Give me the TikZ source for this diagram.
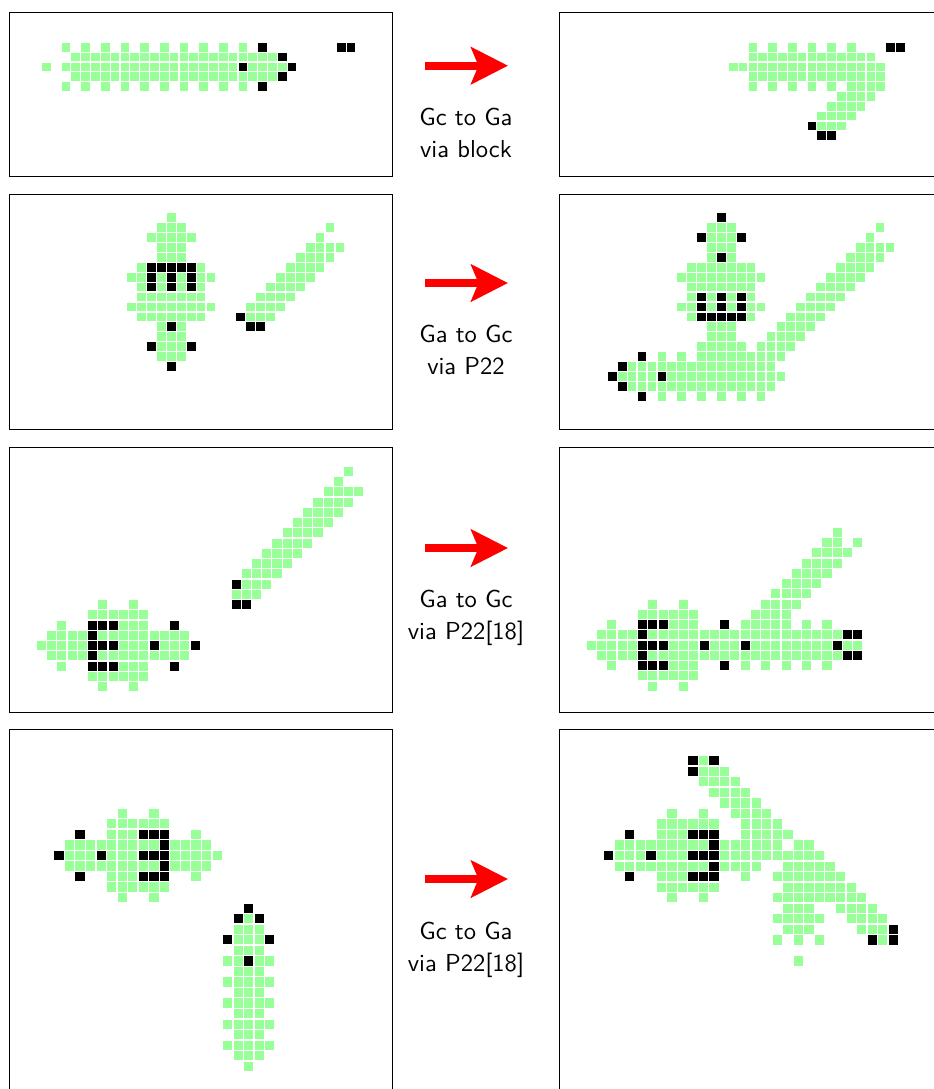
\documentclass[tikz,border=0pt]{standalone}
\usepackage{xcolor}
\usetikzlibrary{arrows.meta}
\definecolor{livegreen}{rgb}{0.6,1,0.6}
\tikzset{
  panel/.style={draw=black,line width=0.4pt},
  moveto/.style={red,line width=3.3pt,-{Stealth[length=15pt,width=15pt,inset=3pt]}},
  vialabel/.style={font=\sffamily,align=center,text=black,inner sep=0pt}
}
\newcommand{\cells}[2]{%
  \foreach \rw/\cs in {#2} \foreach \cx in \cs
    \fill[#1] (\cx-.44,\rw-.44) rectangle ++(.88,.88);}

\begin{document}
\begin{tikzpicture}[x=0.4069pt,y=-0.4069pt]
  \useasboundingbox (0,0) rectangle (933,1089);

  % frames
  \foreach \top/\bot in {12.4/176.6,194/429.6,447/712,729.5/1096} {
    \draw[panel] (9.2,\top) rectangle (392.8,\bot);
    \draw[panel] (559,\top) rectangle (942.6,\bot);
  }

  % first row
  \begin{scope}[shift={(46.3,47.3)},x=4pt,y=-4pt]
    \cells{livegreen}{0/{2,4,...,20},1/{3,...,23},2/{0},2/{2,...,19},2/{21,...,24},3/{3,...,23},4/{2,4,...,20}}
    \cells{black}{0/{22,30,31},1/{24},2/{20,25},3/{24},4/{22}}
  \end{scope}
  \begin{scope}[shift={(733.3,47.3)},x=4pt,y=-4pt]
    \cells{livegreen}{0/{2,4,...,12},1/{2,...,14},2/{0,...,15},3/{2,...,15},4/{2,4,...,10},4/{12,...,15},5/{11,...,14},6/{10,...,13},7/{9,...,12},8/{9,10,11}}
    \cells{black}{0/{16,17},8/{8},9/{9,10}}
  \end{scope}

  % second row
  \begin{scope}[shift={(131.7,217.7)},x=4.035pt,y=-4.035pt]
    \cells{livegreen}{0/{4},1/{3,4,5},2/{2,...,6},3/{3,4,5},4/{3,4,5},5/{1,7},6/{0,1,3,5,7,8},7/{1,3,5,7},8/{1,...,7},9/{0,...,8},10/{1,...,7},11/{3,5},12/{3,4,5},13/{3,4,5},14/{3,4,5}}
    \cells{black}{5/{2,...,6},6/{2,4,6},7/{2,4,6},11/{4},13/{2,6},15/{4}}
    \cells{livegreen}{1/{20},2/{19},3/{18,...,21},4/{17,...,20},5/{16,...,19},6/{15,...,18},7/{14,...,17},8/{13,...,16},9/{12,...,15},10/{12,13,14}}
    \cells{black}{10/{11},11/{12,13}}
  \end{scope}
  \begin{scope}[shift={(612.3,217.7)},x=4.035pt,y=-4.035pt]
    \cells{livegreen}{1/{10,11,12,27},2/{10,11,12,26},3/{10,11,12},3/{25,...,28},4/{10,12},4/{24,...,27},5/{8,...,14},5/{23,...,26},6/{7,...,15},6/{22,...,25},7/{8,...,14},7/{21,...,24},8/{8,10,12,14},8/{20,...,23},9/{7,8,10,12,14,15},9/{19,...,22},10/{8,14},10/{18,...,21},11/{10,11,12},11/{17,...,20},12/{10,11,12},12/{16,...,19},13/{9,...,13},13/{15,...,18},14/{5,7},14/{9,...,17},15/{2,...,16},16/{1,...,4},16/{6,...,17},17/{2,...,16},18/{5,7,...,15}}
    \cells{black}{0/{11},2/{9,13},4/{11},8/{9,11,13},9/{9,11,13},10/{9,...,13},14/{3},15/{1},16/{0,5},17/{1},18/{3}}
  \end{scope}

  % third row
  \begin{scope}[shift={(41.3,471.3)},x=4.17pt,y=-4.17pt]
    \cells{livegreen}{0/{30},1/{29},2/{28,...,31},3/{27,...,30},4/{26,...,29},5/{25,...,28},6/{24,...,27},7/{23,...,26},8/{22,...,25},9/{21,...,24},10/{20,...,23},11/{20,21,22},12/{19,20,21}}
    \cells{black}{11/{19},13/{19,20}}
    \cells{livegreen}{13/{6,9},14/{5,...,10},15/{2,8,9,10},16/{1,...,4},16/{6,...,14},17/{0,...,4},17/{8,9,10,12,13,14},18/{1,...,4},18/{6,...,14},19/{2,8,9,10},20/{5,...,10},21/{6,9}}
    \cells{black}{15/{5,6,7,13},16/{5},17/{5,6,7,11,15},18/{5},19/{5,6,7,13}}
  \end{scope}
  \begin{scope}[shift={(591.3,532.3)},x=4.17pt,y=-4.17pt]
    \cells{livegreen}{0/{24},1/{23,24,26},2/{22,...,25},3/{21,...,24},4/{20,...,23},5/{19,...,22},6/{18,...,21},7/{6,9},7/{17,...,20},8/{5,...,10},8/{16,...,19},9/{2,8,9,10,21,23},9/{15,...,19},10/{1,...,4},10/{6,...,24},11/{0,...,4},11/{8,9,10,12,13,14},11/{16,...,23},11/{25,26},12/{1,...,4},12/{6,...,24},13/{2,8,9,10,15,17,19,21,23},14/{5,...,10},15/{6,9}}
    \cells{black}{9/{5,6,7,13},10/{5,25,26},11/{5,6,7,11,15,24},12/{5,25,26},13/{5,6,7,13}}
  \end{scope}

  % fourth row
  \begin{scope}[shift={(59,813.3)},x=4.29pt,y=-4.29pt]
    \cells{livegreen}{0/{6,9},1/{5,...,10},2/{5,6,7,13},3/{1,...,9},3/{11,...,14},4/{1,2,3,5,6,7},4/{11,...,15},5/{1,...,9},5/{11,...,14},6/{5,6,7,13},7/{5,...,10},8/{6,9}}
    \cells{black}{2/{2,8,9,10},3/{10},4/{0,4,8,9,10},5/{10},6/{2,8,9,10}}
    \cells{livegreen}{10/{18},11/{17,18,19},12/{17,18,19},13/{17,18,19},14/{16,17,19,20},15/{17,18,19},16/{16,...,20},17/{17,18,19},18/{16,...,20},19/{17,18,19},20/{16,...,20},21/{17,18,19},22/{16,...,20},23/{17,18,19},24/{18}}
    \cells{black}{9/{18},10/{17,19},12/{16,20},14/{18}}
  \end{scope}
  \begin{scope}[shift={(608.7,760.7)},x=4.29pt,y=-4.29pt]
    \cells{livegreen}{0/{9},1/{9,10,11},2/{9,...,12},3/{10,...,13},4/{11,...,14},5/{6,9},5/{12,...,15},6/{5,...,10},6/{13,...,16},7/{5,6,7},7/{13,...,17},8/{1,...,9},8/{11,...,16},8/{18,19},9/{1,2,3,5,6,7},9/{11,...,20},10/{1,...,9},10/{11,...,14},10/{17,...,21},11/{5,6,7,13},11/{16,...,22},12/{5,...,10},12/{17,...,23},13/{6,9},13/{16,...,24},14/{17,18,19},14/{22,...,25},15/{16,...,20},15/{23,...,26},16/{17,18,19},16/{24,25,26},17/{16,18,20,26},19/{18}}
    \cells{black}{0/{8,10},1/{8},7/{2,8,9,10},8/{10},9/{0,4,8,9,10},10/{10},11/{2,8,9,10},16/{27},17/{25,27}}
  \end{scope}

  % moves between the panels
  \foreach \n/\ya/\yb/\first/\second in {1/65.7/133/Gc to Ga/via block,2/283/349.5/Ga to Gc/via P22,3/548/618/Ga to Gc/via P22[18],4/879/950/Gc to Ga/via P22[18]} {
    \coordinate (from\n) at (425,\ya);
    \coordinate (to\n) at (508,\ya);
    \draw[moveto] (from\n) -- (to\n);
    \node[vialabel] (via\n) at (466,\yb) {\first\\[1pt]\second};
  }
\end{tikzpicture}
\end{document}
